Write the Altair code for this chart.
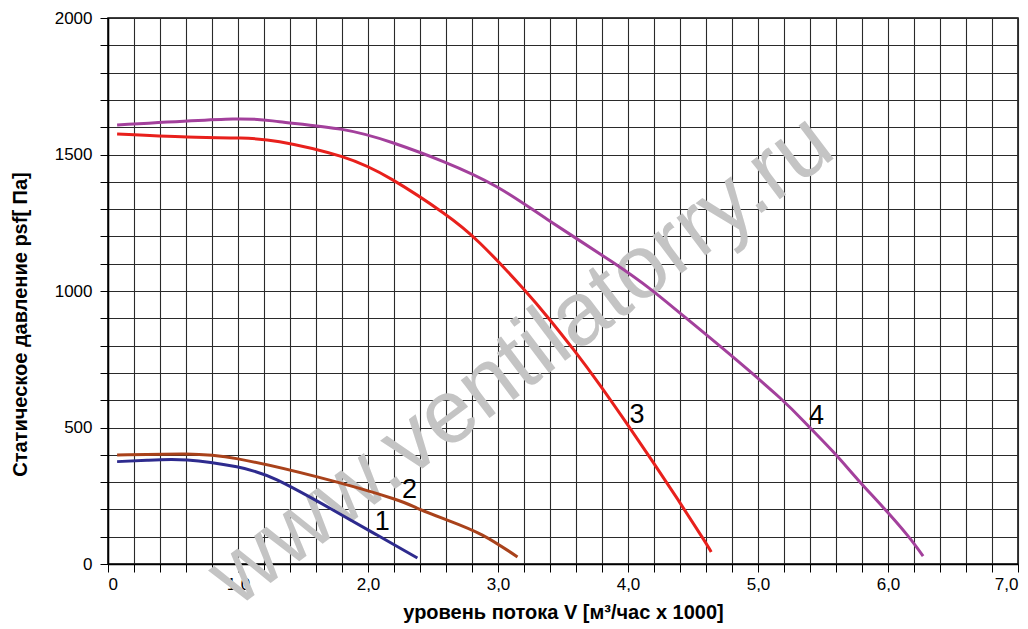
import altair as alt
import pandas as pd

# Curve data (x: flow x1000 m3/h, y: static pressure Pa)
c1_x = [0.07, 0.3, 0.61, 0.99, 1.30, 1.73, 2.07, 2.38]
c1_y = [375, 380, 381, 356, 308, 198, 106, 22]

c2_x = [0.07, 0.6, 1.0, 1.61, 2.19, 2.38, 2.61, 2.88, 3.15]
c2_y = [399, 403, 385, 319, 240, 204, 161, 106, 26]

c3_x = [0.07, 0.61, 1.02, 1.32, 1.80, 2.19, 2.58, 2.86, 3.19, 3.40, 3.58, 3.78, 3.99, 4.19, 4.40, 4.58, 4.64]
c3_y = [1575, 1564, 1560, 1547, 1492, 1407, 1286, 1176, 1011, 894, 786, 658, 515, 375, 224, 91, 44]

c4_x = [0.07, 0.96, 1.32, 1.80, 2.19, 2.58, 2.99, 3.38, 3.88, 4.18, 4.40, 4.77, 5.17, 5.38, 5.58, 5.77, 5.96, 6.15, 6.27]
c4_y = [1608, 1630, 1620, 1592, 1543, 1474, 1382, 1262, 1106, 1004, 919, 773, 608, 509, 410, 308, 209, 105, 29]

names = ["1", "2", "3", "4"]
colors = ["#2e2b8e", "#a9421b", "#e8201c", "#a3409c"]

label_x = [2.11, 2.32, 4.07, 5.45]
label_y = [154, 271, 546, 542]

watermark = "www.ventilatorry.ru"

rows = []
for n, xs, ys in zip(names, [c1_x, c2_x, c3_x, c4_x], [c1_y, c2_y, c3_y, c4_y]):
    for i, (x, y) in enumerate(zip(xs, ys)):
        rows.append({"curve": n, "x": x, "y": y, "order": i})
df = pd.DataFrame(rows)
lab = pd.DataFrame({"curve": names, "x": label_x, "y": label_y})
wm = pd.DataFrame({"t": [watermark], "x": [3.18], "y": [747]})

xvals = [round(i * 0.2, 1) for i in range(36)]
yvals = [i * 100 for i in range(21)]

xscale = alt.Scale(domain=[0, 7], nice=False)
yscale = alt.Scale(domain=[0, 2000], nice=False)

xaxis = alt.Axis(
    values=xvals, grid=True, gridColor="#2a2a2a", gridWidth=1.1,
    labelExpr="abs(datum.value - round(datum.value)) < 0.01 ? (datum.value == 0 ? '0' : replace(format(datum.value, '.1f'), '.', ',')) : ''",
    tickSize=8, tickColor="#000", domainColor="#000", domainWidth=1.5,
    labelFont="Liberation Sans", labelFontSize=17, labelColor="#000", labelPadding=4,
    title="уровень потока  V [м³/час x 1000]", titleFont="Liberation Sans",
    titleFontSize=20, titleFontWeight="bold", titleColor="#000",
    titleY=48, titleBaseline="middle", labelOverlap=False,
)
yaxis = alt.Axis(
    values=yvals, grid=True, gridColor="#2a2a2a", gridWidth=1.1,
    labelExpr="datum.value % 500 == 0 ? format(datum.value, 'd') : ''",
    tickSize=8, tickColor="#000", domainColor="#000", domainWidth=1.5,
    labelFont="Liberation Sans", labelFontSize=17, labelColor="#000", labelPadding=8,
    title="Статическое давление  psf[ Па]", titleFont="Liberation Sans",
    titleFontSize=20, titleFontWeight="bold", titleColor="#000",
    titleX=-88, titleY=306, titleBaseline="middle", titleAngle=270, labelOverlap=False,
)

wm_layer = alt.Chart(wm).mark_text(
    angle=323, font="Liberation Sans", fontSize=90, color="#c4c4c4", align="center", baseline="middle"
).encode(
    x=alt.X("x:Q", scale=xscale, axis=xaxis),
    y=alt.Y("y:Q", scale=yscale, axis=yaxis),
    text="t:N",
)

lines = alt.Chart(df).mark_line(strokeWidth=3, interpolate="natural").encode(
    x=alt.X("x:Q", scale=xscale, axis=xaxis),
    y=alt.Y("y:Q", scale=yscale, axis=yaxis),
    color=alt.Color("curve:N", scale=alt.Scale(domain=names, range=colors), legend=None),
    order="order:Q",
)

labels = alt.Chart(lab).mark_text(
    font="Liberation Sans", fontSize=27, color="#000", align="center", baseline="middle"
).encode(
    x=alt.X("x:Q", scale=xscale, axis=xaxis),
    y=alt.Y("y:Q", scale=yscale, axis=yaxis),
    text="curve:N",
)

chart = alt.layer(wm_layer, lines, labels).properties(
    width=910, height=546,
    autosize=alt.AutoSizeParams(type="none"),
    padding={"left": 100, "top": 10, "right": 2, "bottom": 63},
).configure_view(stroke="#000", strokeWidth=1.5)

chart.save("out.html", embed_options={"renderer": "svg", "actions": False})
